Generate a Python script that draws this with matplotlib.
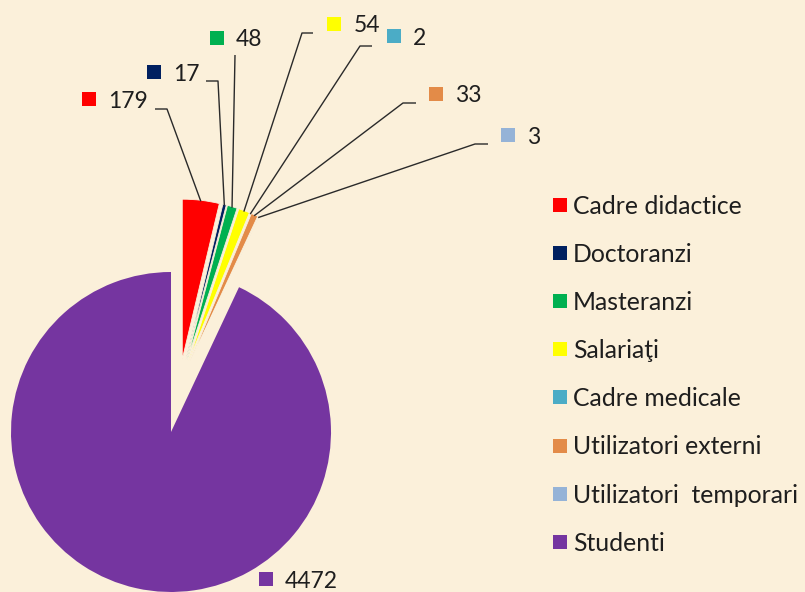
import numpy as np
import matplotlib
matplotlib.use("Agg")
import matplotlib.pyplot as plt

# ---------------- data ----------------
categories = ["Cadre didactice", "Doctoranzi", "Masteranzi", "Salariaţi",
              "Cadre medicale", "Utilizatori externi", "Utilizatori  temporari", "Studenti"]
values = [179, 17, 48, 54, 2, 33, 3, 4472]
colors = ["#FF0000", "#002060", "#00B050", "#FFFF00",
          "#4BACC6", "#E38B48", "#95B3D7", "#7535A0"]

# ---------------- layout (pixel coords, y downward) ----------------
W, H = 805, 592
BG = "#FBF0DA"
FONT = ["Lato", "DejaVu Sans"]
FS_NUM = 16.5
FS_LEG = 17.8
TXT = "#1e1e1e"

def Y(y):
    return H - y

fig = plt.figure(figsize=(W / 100, H / 100), dpi=100)
fig.patch.set_facecolor(BG)
ax = fig.add_axes([0, 0, 1, 1])
ax.set_facecolor(BG)

pie_cx, pie_cy, pie_r = 171, 432, 160
wedges, _ = ax.pie(values, colors=colors, startangle=90, counterclock=False,
                   radius=pie_r, center=(pie_cx, Y(pie_cy)),
                   wedgeprops=dict(linewidth=0))

# explode the small slices: common offset + small radial push
common_dx, common_dy = 8, 45
push = 28
arc_mid = []
for w, v in zip(wedges, values):
    tm = np.deg2rad(0.5 * (w.theta1 + w.theta2))
    cx, cy = w.center
    if v != max(values):
        cx += common_dx + push * np.cos(tm)
        cy += common_dy + push * np.sin(tm)
        w.set_center((cx, cy))
        w.set_edgecolor(BG)
        w.set_linewidth(0.6)
    arc_mid.append((cx + (w.r - 1) * np.cos(tm), cy + (w.r - 1) * np.sin(tm)))

# ---------------- data labels ----------------
# (square center x, y, leader elbow points) in pixel coords
label_pos = [
    (89, 99, [(155, 109), (167, 109)]),
    (154, 72, [(206, 81), (218, 81)]),
    (216.5, 37.5, [(235, 55)]),
    (334, 23.5, [(313, 33), (302, 33)]),
    (393.5, 36, [(372, 46), (360, 46)]),
    (436, 93.5, [(416, 103), (403, 103)]),
    (507.5, 135, [(488, 144), (475, 144)]),
    (265.5, 578.5, None),
]

for (sx, sy, pts), v, c, am in zip(label_pos, values, colors, arc_mid):
    ax.scatter([sx], [Y(sy)], s=100, marker="s", color=c, linewidths=0, zorder=5)
    ax.text(sx + 19.5, Y(sy + 9), f"{v}", fontsize=FS_NUM, family=FONT,
            color=TXT, ha="left", va="baseline", zorder=5)
    if pts is not None:
        xs = [p[0] for p in pts] + [am[0]]
        ys = [Y(p[1]) for p in pts] + [am[1]]
        ax.plot(xs, ys, color="#2a2a2a", lw=1.0, zorder=4, solid_capstyle="butt")

# ---------------- legend ----------------
leg_x, leg_y0, leg_dy = 560, 204.5, 48.2
for i, (cat, c) in enumerate(zip(categories, colors)):
    yy = leg_y0 + i * leg_dy
    ax.scatter([leg_x], [Y(yy)], s=95, marker="s", color=c, linewidths=0, zorder=5)
    ax.text(leg_x + 13, Y(yy + 9), cat, fontsize=FS_LEG, family=FONT,
            color=TXT, ha="left", va="baseline", zorder=5)

ax.set_xlim(0, W)
ax.set_ylim(0, H)
ax.set_aspect("equal")
ax.axis("off")

fig.savefig("out.png", dpi=100, facecolor=BG)
